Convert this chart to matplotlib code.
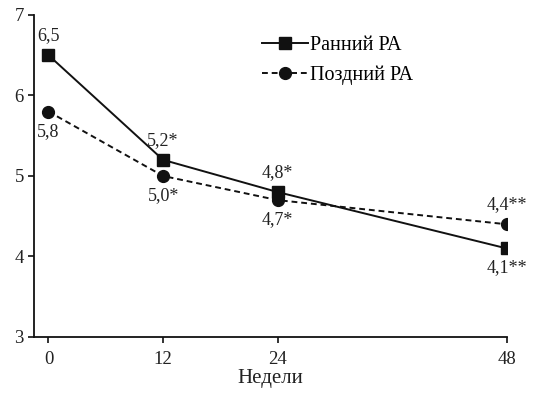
import matplotlib
matplotlib.use("Agg")
import matplotlib.pyplot as plt

# Данные
weeks = [0, 12, 24, 48]
early_ra = [6.5, 5.2, 4.8, 4.1]
late_ra = [5.8, 5.0, 4.7, 4.4]
early_labels = ["6,5", "5,2*", "4,8*", "4,1**"]
late_labels = ["5,8", "5,0*", "4,7*", "4,4**"]
# где ставить подпись: 1 = сверху, -1 = снизу
early_pos = [1, 1, 1, -1]
late_pos = [-1, -1, -1, 1]

plt.rcParams["font.family"] = ["Liberation Serif", "DejaVu Serif"]

fig = plt.figure(figsize=(5.34, 3.93), dpi=100)
ax = fig.add_axes([0.064, 0.1425, 0.885, 0.8195])

ax.plot(weeks, early_ra, color="#111111", linewidth=1.4, marker="s",
        markersize=8, label="Ранний РА")
ax.plot(weeks, late_ra, color="#111111", linewidth=1.4, linestyle=(0, (3, 2)),
        marker="o", markersize=8.5, label="Поздний РА")

for x, y, t, p in zip(weeks, early_ra, early_labels, early_pos):
    ax.annotate(t, (x, y), xytext=(0, 8 * p), textcoords="offset points",
                ha="center", va="bottom" if p > 0 else "top", fontsize=13,
                color="#222222")
for x, y, t, p in zip(weeks, late_ra, late_labels, late_pos):
    ax.annotate(t, (x, y), xytext=(0, 8 * p), textcoords="offset points",
                ha="center", va="bottom" if p > 0 else "top", fontsize=13,
                color="#222222")

ax.set_xlim(-1.5, 48)
ax.set_ylim(3, 7)
ax.set_xticks(weeks)
ax.set_yticks([3, 4, 5, 6, 7])
ax.set_xlabel("Недели", fontsize=15, labelpad=1, color="#222222")

for s in ["top", "right"]:
    ax.spines[s].set_visible(False)
for s in ["left", "bottom"]:
    ax.spines[s].set_linewidth(1.3)
    ax.spines[s].set_color("#111111")
ax.tick_params(direction="out", length=4, width=1.2, labelsize=13.5,
               colors="#111111", labelcolor="#222222")
ax.tick_params(axis="x", pad=6)

leg = ax.legend(loc="upper left", bbox_to_anchor=(0.444, 0.99), frameon=False,
                fontsize=14.5, handlelength=2.3, handletextpad=0.1,
                labelspacing=0.5)

fig.savefig("out.png", dpi=100, facecolor="white")
